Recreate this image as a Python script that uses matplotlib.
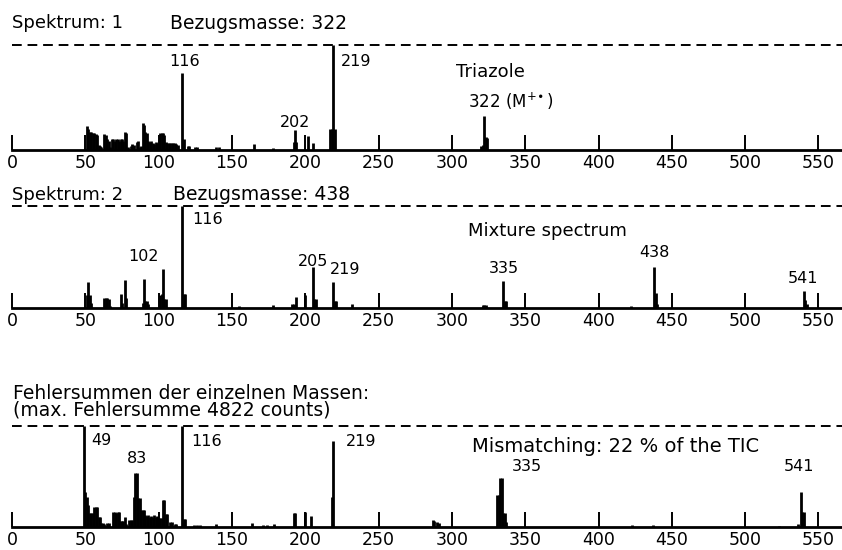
import matplotlib.pyplot as plt

plt.rcParams['font.family'] = 'DejaVu Sans'

# spectrum 1: triazole reference (intensity in % of the dashed line)
masses_1 = [51, 52, 53, 54, 55, 56, 57, 58, 59, 60, 61, 63, 64, 65, 66, 67, 68, 69, 70, 71,
            72, 73, 74, 75, 76, 77, 78, 79, 81, 82, 83, 85, 86, 87, 88, 89, 90, 91, 92, 93,
            94, 95, 96, 97, 98, 99, 100, 101, 102, 103, 104, 105, 106, 107, 108, 109, 110,
            111, 112, 113, 116, 117, 120, 121, 125, 126, 139, 141, 165, 178, 192, 193, 194,
            202, 205, 217, 218, 219, 220, 320, 321, 322, 323, 324]
counts_1 = [23, 20, 17, 17, 16, 16, 15, 14, 5, 4, 3, 15, 14, 10, 9, 3, 10, 10, 9, 10,
            10, 9, 10, 10, 9, 17, 16, 3, 4, 6, 5, 8, 9, 3, 4, 26, 24, 17, 16, 9,
            8, 9, 7, 6, 8, 7, 6, 16, 16, 16, 14, 8, 7, 7, 7, 7, 7,
            7, 6, 5, 73, 10, 4, 4, 3, 3, 3, 3, 6, 2, 8, 19, 8,
            13, 7, 20, 20, 100, 20, 4, 5, 32, 12, 11]

# spectrum 2: mixture
masses_2 = [51, 52, 53, 54, 63, 64, 65, 66, 67, 74, 75, 77, 78, 89, 90, 91, 92, 93, 101, 102,
            103, 104, 105, 116, 117, 118, 155, 178, 191, 192, 194, 200, 205, 206, 207, 219,
            220, 221, 232, 321, 322, 323, 335, 336, 337, 422, 438, 439, 440, 540, 541, 542]
counts_2 = [13, 25, 13, 5, 10, 10, 10, 9, 2, 14, 5, 27, 10, 5, 28, 7, 7, 4, 13, 14,
            38, 9, 9, 100, 14, 14, 2, 3, 4, 4, 11, 13, 40, 9, 9, 25,
            7, 7, 4, 3, 3, 3, 26, 7, 7, 2, 40, 15, 4, 17, 8, 4]

# error sums of the single masses
masses_3 = [49, 50, 51, 52, 53, 54, 55, 56, 57, 58, 59, 60, 61, 62, 63, 65, 66, 69, 70, 71,
            72, 73, 74, 75, 76, 77, 78, 80, 81, 82, 83, 84, 85, 86, 87, 88, 89, 90, 91, 92,
            93, 94, 95, 96, 97, 98, 99, 100, 101, 102, 103, 104, 105, 106, 108, 109, 111, 112,
            116, 117, 118, 124, 126, 128, 139, 164, 171, 174, 179, 192, 193, 200, 204, 218,
            219, 287, 288, 290, 291, 331, 332, 333, 334, 335, 336, 337, 423, 437, 523, 536,
            538, 539, 540]
counts_3 = [100, 35, 30, 22, 14, 14, 14, 20, 20, 20, 10, 10, 4, 4, 3, 4, 4, 15, 15, 14,
            15, 15, 6, 6, 6, 10, 3, 7, 7, 7, 30, 53, 53, 29, 29, 17, 17, 17, 12, 11,
            12, 10, 11, 10, 12, 10, 11, 9, 9, 9, 27, 27, 13, 13, 5, 5, 3, 3,
            100, 8, 8, 2, 2, 2, 3, 4, 2, 2, 3, 14, 14, 15, 11, 30,
            85, 7, 6, 5, 4, 32, 32, 49, 49, 14, 14, 5, 2, 2, 1, 3,
            35, 15, 15]

mass_ticks = list(range(0, 551, 50))

fig = plt.figure(figsize=(8.42, 5.5), dpi=100)


def panel(rect, masses, counts):
    ax = fig.add_axes(rect)
    ax.vlines(masses, 0, counts, colors='black', linewidth=2.0, clip_on=False)
    ax.set_xlim(0, 566)
    ax.set_ylim(0, 100)
    ax.axhline(100, color='black', linewidth=1.4, linestyle=(0, (5, 3)), clip_on=False)
    for side in ['top', 'right', 'left']:
        ax.spines[side].set_visible(False)
    ax.spines['bottom'].set_linewidth(2)
    ax.set_xticks(mass_ticks)
    ax.set_yticks([])
    ax.tick_params(axis='x', direction='in', length=11, width=1.4, labelsize=12.5, pad=3)
    ax.patch.set_alpha(0)
    return ax


ax1 = panel([0.01425, 0.7273, 0.9857, 0.1909], masses_1, counts_1)
ax2 = panel([0.01425, 0.44, 0.9857, 0.1855], masses_2, counts_2)
ax3 = panel([0.01425, 0.0418, 0.9857, 0.1836], masses_3, counts_3)

kw = dict(fontsize=11.5, va='center', clip_on=False)
words = dict(fontsize=13, va='center', clip_on=False)
ax1.text(118, 84, '116', ha='center', **kw)
ax1.text(224, 84, '219', ha='left', **kw)
ax1.text(193, 26, '202', ha='center', **kw)
ax1.text(326, 74, 'Triazole', ha='center', **words)
ax1.text(311, 46, r'322 (M$^{+\!\bullet}$)', ha='left', fontsize=12, va='center', clip_on=False)

ax2.text(123, 87, '116', ha='left', **kw)
ax2.text(90, 50, '102', ha='center', **kw)
ax2.text(205.5, 46, '205', ha='center', **kw)
ax2.text(227, 38, '219', ha='center', **kw)
ax2.text(365, 75, 'Mixture spectrum', ha='center', **words)
ax2.text(335.5, 39, '335', ha='center', **kw)
ax2.text(438, 54, '438', ha='center', **kw)
ax2.text(539.6, 29, '541', ha='center', **kw)

ax3.text(54, 85.5, '49', ha='left', **kw)
ax3.text(85, 67.5, '83', ha='center', **kw)
ax3.text(122, 84.5, '116', ha='left', **kw)
ax3.text(228, 85, '219', ha='left', **kw)
ax3.text(314, 80, 'Mismatching: 22 % of the TIC', ha='left', fontsize=14, va='center', clip_on=False)
ax3.text(351, 59.5, '335', ha='center', **kw)
ax3.text(537, 59.5, '541', ha='center', **kw)

fig.text(0.014, 0.958, 'Spektrum: 1', fontsize=13, va='center')
fig.text(0.202, 0.958, 'Bezugsmasse: 322', fontsize=13.5, va='center')
fig.text(0.014, 0.6455, 'Spektrum: 2', fontsize=13, va='center')
fig.text(0.2055, 0.6455, 'Bezugsmasse: 438', fontsize=13.5, va='center')
fig.text(0.016, 0.27, 'Fehlersummen der einzelnen Massen:\n(max. Fehlersumme 4822 counts)',
         fontsize=13.5, va='center', linespacing=0.8)

fig.savefig('out.png', dpi=100)
